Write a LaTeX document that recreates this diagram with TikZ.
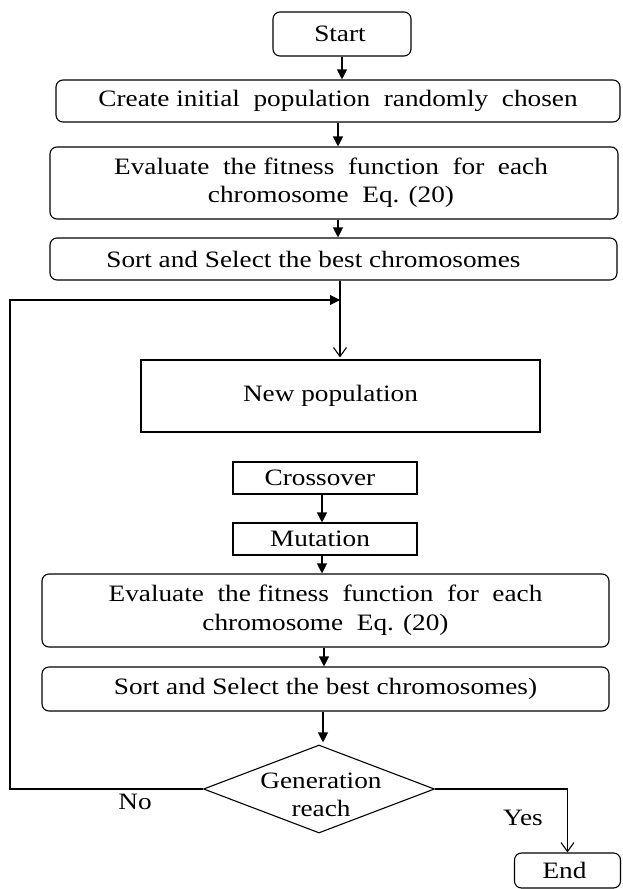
\documentclass[tikz,border=0pt]{standalone}
\usepackage{fontspec}
\setmainfont{Liberation Serif}
\usepackage{graphicx}
\usetikzlibrary{shapes.geometric,arrows.meta}
\newcommand\tx[1]{\scalebox{1.16}[1]{#1}}
\newcommand\tl[1]{\scalebox{1.16}[1]{\begin{tabular}{@{}c@{}}#1\end{tabular}}}
\begin{document}
\begin{tikzpicture}[x=1pt,y=-1pt,
  font=\fontsize{23.5}{28.5}\selectfont,
  box/.style={draw,line width=1.1pt,inner sep=0pt,rounded corners=7pt},
  sq/.style={draw,line width=1.1pt,inner sep=0pt},
  dia/.style={draw,line width=1.1pt,inner sep=0pt,diamond},
  arr/.style={line width=1.1pt,-{Triangle[length=10pt,width=10pt]}},
  oarr/.style={line width=1.1pt,-{Straight Barb[length=9pt,width=13pt]}},
  lbl/.style={inner sep=0pt}]
\useasboundingbox (0,0) rectangle (623,889);

\node[box,minimum width=138,minimum height=44] (start) at (342,34) {\tx{Start}\hspace*{4pt}};
\node[box,minimum width=564,minimum height=42] (create) at (338,101) {\tx{Create initial\ \ population\ \ randomly\ \ chosen}};
\node[box,minimum width=568,minimum height=72] (eval1) at (334,183) {\tl{Evaluate\ \ the fitness\ \ function\ \ for\ \ each\\chromosome\ \ Eq. (20)}\hspace*{6pt}};
\node[box,minimum width=567,minimum height=42] (sort1) at (333.5,259) {\tx{Sort and Select the best chromosomes}\hspace*{40pt}};
\node[sq,minimum width=399,minimum height=72] (newpop) at (340.5,396) {\tx{New population}\hspace*{20pt}};
\node[sq,minimum width=184,minimum height=32] (cross) at (325,478) {\tx{Crossover}\hspace*{10pt}};
\node[sq,minimum width=184,minimum height=32] (mut) at (325,539) {\tx{Mutation}\hspace*{10pt}};
\node[box,minimum width=567,minimum height=73] (eval2) at (325.5,610.5) {\tl{Evaluate\ \ the fitness\ \ function\ \ for\ \ each\\chromosome\ \ Eq. (20)}};
\node[box,minimum width=567,minimum height=44] (sort2) at (325.5,689) {\tx{Sort and Select the best chromosomes)}};
\node[dia,minimum width=231,minimum height=88] (dec) at (319,789) {};
\node[lbl] (dectext) at (321,797) {\tl{Generation\\reach}};
\node[box,minimum width=106,minimum height=35] (end) at (567.5,870.5) {\tx{End}\hspace*{6pt}};
\node[lbl] (no) at (135,802) {\tx{No}};
\node[lbl] (yes) at (523,818) {\tx{Yes}};

\coordinate (ret) at (340,300);
\coordinate (lt) at (10,300);

\draw[arr] (start.south) -- (start.south |- create.north);
\draw[arr] (create.south) -- (create.south |- eval1.north);
\draw[arr] (create.south |- eval1.south) -- (create.south |- sort1.north);
\draw[oarr,shorten >=2pt] (sort1.south -| ret) -- (newpop.north -| ret);
\draw[arr] (dec.west) -- (dec.west -| lt) -- (lt) -- (ret);
\draw[arr] (cross.south -| 322,0) -- (mut.north -| 322,0);
\draw[arr] (mut.south -| 322,0) -- (eval2.north -| 322,0);
\draw[arr] (eval2.south -| 324,0) -- (sort2.north -| 324,0);
\draw[arr,shorten >=2pt] (sort2.south -| 323,0) -- (dec.north -| 323,0);
\draw[oarr] (dec.east) -- (dec.east -| end.north) -- (end.north);
\end{tikzpicture}
\end{document}
